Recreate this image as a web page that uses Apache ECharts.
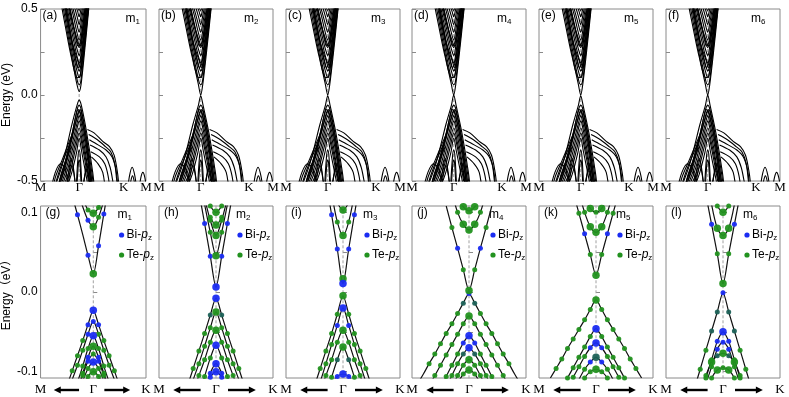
<!DOCTYPE html>
<html>
<head>
<meta charset="utf-8">
<script src="https://cdn.jsdelivr.net/npm/echarts@6.0.0/dist/echarts.min.js"></script>
<style>
html, body { margin: 0; padding: 0; background: #fff; }
#main { width: 789px; height: 397px; }
</style>
</head>
<body>
<div id="main"></div>
<script>
// ---- labels ----
var panelNums = ['1', '2', '3', '4', '5', '6'];
var topLetters = ['(a)', '(b)', '(c)', '(d)', '(e)', '(f)'];
var botLetters = ['(g)', '(h)', '(i)', '(j)', '(k)', '(l)'];

// top row: M-Γ-K-M path
var topTickK = [0, 0.577, 1.244, 1.577];
var topTickNames = ['M', 'Γ', 'K', 'M'];
var topYTicks = [-0.5, -0.25, 0, 0.25, 0.5];
var topYLabels = [-0.5, 0, 0.5];

// bottom row: M <- Γ -> K zoom
var botTickU = [-1, 0, 1];
var botTickNames = ['M', 'Γ', 'K'];
var botYTicks = [-0.1, -0.05, 0, 0.05, 0.1];
var botYLabels = [-0.1, 0, 0.1];

// band edges at Γ for each top panel
var topCbEdge = [0.02, 0.0, 0.0, 0.0, 0.0, 0.0];
var topVbEdge = [-0.03, -0.005, -0.005, 0.0, -0.005, 0.0];

// first conduction / valence band (null = band edge at Γ, per panel)
var topCbFirst = [[0.31, 0.57], [0.40, 0.37], [0.48, 0.19], [0.545, 0.06], null, [0.605, 0.06], [0.655, 0.24], [0.72, 0.5], [0.735, 0.57]];
var topVbFirst = [[0.19, -0.56], [0.33, -0.40], [0.47, -0.17], [0.545, -0.06], null, [0.61, -0.06], [0.69, -0.22], [0.78, -0.45], [0.81, -0.56]];

// conduction bands (k, E)
var topCb = [
  [[0.33, 0.57], [0.42, 0.36], [0.50, 0.18], [0.555, 0.075], [0.577, 0.06], [0.60, 0.075], [0.65, 0.25], [0.715, 0.5], [0.73, 0.57]],
  [[0.34, 0.57], [0.43, 0.37], [0.51, 0.20], [0.56, 0.115], [0.577, 0.10], [0.595, 0.115], [0.645, 0.28], [0.705, 0.5], [0.725, 0.57]],
  [[0.355, 0.57], [0.44, 0.38], [0.52, 0.22], [0.56, 0.155], [0.577, 0.14], [0.595, 0.155], [0.64, 0.30], [0.70, 0.51], [0.715, 0.57]],
  [[0.37, 0.57], [0.45, 0.40], [0.525, 0.26], [0.565, 0.195], [0.577, 0.185], [0.59, 0.195], [0.635, 0.33], [0.69, 0.51], [0.71, 0.57]],
  [[0.385, 0.57], [0.46, 0.42], [0.53, 0.29], [0.565, 0.24], [0.577, 0.23], [0.59, 0.24], [0.63, 0.36], [0.685, 0.52], [0.70, 0.57]],
  [[0.40, 0.57], [0.475, 0.44], [0.535, 0.33], [0.577, 0.275], [0.62, 0.36], [0.675, 0.52], [0.69, 0.57]],
  [[0.42, 0.57], [0.49, 0.46], [0.54, 0.37], [0.577, 0.32], [0.615, 0.40], [0.665, 0.53], [0.68, 0.57]],
  [[0.44, 0.57], [0.50, 0.48], [0.545, 0.41], [0.577, 0.365], [0.61, 0.43], [0.66, 0.55], [0.67, 0.57]],
  [[0.46, 0.57], [0.515, 0.50], [0.55, 0.45], [0.577, 0.41], [0.605, 0.46], [0.655, 0.57]],
  [[0.48, 0.57], [0.525, 0.52], [0.555, 0.485], [0.577, 0.455], [0.60, 0.49], [0.645, 0.57]],
  [[0.50, 0.57], [0.54, 0.53], [0.577, 0.49], [0.60, 0.52], [0.635, 0.57]],
  [[0.29, 0.57], [0.37, 0.40], [0.46, 0.22], [0.55, 0.10], [0.59, 0.11], [0.64, 0.24], [0.70, 0.45], [0.74, 0.57]],
  // split pairs crossing at Γ
  [[0.36, 0.57], [0.46, 0.33], [0.545, 0.17], [0.562, 0.16], [0.60, 0.20], [0.655, 0.37], [0.70, 0.57]],
  [[0.35, 0.57], [0.45, 0.34], [0.555, 0.20], [0.592, 0.16], [0.61, 0.17], [0.66, 0.32], [0.715, 0.57]],
  [[0.41, 0.57], [0.48, 0.42], [0.55, 0.29], [0.565, 0.285], [0.60, 0.32], [0.65, 0.46], [0.685, 0.57]],
  [[0.40, 0.57], [0.47, 0.43], [0.56, 0.31], [0.59, 0.285], [0.605, 0.29], [0.655, 0.42], [0.695, 0.57]]
];

// valence bands (k, E)
var topVb = [
  [[0.22, -0.57], [0.35, -0.42], [0.48, -0.21], [0.55, -0.08], [0.577, -0.06], [0.605, -0.08], [0.68, -0.23], [0.77, -0.46], [0.80, -0.56]],
  [[0.24, -0.57], [0.37, -0.42], [0.49, -0.22], [0.555, -0.11], [0.577, -0.09], [0.60, -0.11], [0.675, -0.26], [0.76, -0.48], [0.79, -0.56]],
  [[0.26, -0.57], [0.385, -0.43], [0.50, -0.24], [0.56, -0.14], [0.577, -0.12], [0.595, -0.14], [0.67, -0.29], [0.75, -0.50], [0.775, -0.56]],
  [[0.28, -0.57], [0.40, -0.44], [0.51, -0.26], [0.56, -0.17], [0.577, -0.15], [0.595, -0.17], [0.665, -0.32], [0.74, -0.52], [0.76, -0.56]],
  [[0.30, -0.57], [0.42, -0.45], [0.52, -0.28], [0.577, -0.19], [0.63, -0.28], [0.73, -0.50], [0.75, -0.56]],
  [[0.33, -0.57], [0.44, -0.45], [0.53, -0.30], [0.577, -0.22], [0.625, -0.30], [0.72, -0.51], [0.74, -0.56]],
  [[0.36, -0.57], [0.46, -0.46], [0.54, -0.33], [0.577, -0.25], [0.615, -0.33], [0.71, -0.53], [0.72, -0.56]],
  // split pairs crossing at Γ
  [[0.25, -0.57], [0.40, -0.36], [0.54, -0.10], [0.562, -0.085], [0.60, -0.12], [0.68, -0.28], [0.77, -0.57]],
  [[0.23, -0.57], [0.38, -0.37], [0.555, -0.12], [0.592, -0.085], [0.61, -0.10], [0.69, -0.27], [0.785, -0.57]],
  // humps around Γ
  [[0.38, -0.56], [0.43, -0.42], [0.46, -0.37], [0.49, -0.42], [0.53, -0.56]],
  [[0.40, -0.56], [0.44, -0.45], [0.47, -0.41], [0.50, -0.46], [0.53, -0.56]],
  [[0.53, -0.56], [0.56, -0.36], [0.577, -0.32], [0.595, -0.36], [0.62, -0.56]],
  [[0.54, -0.56], [0.565, -0.40], [0.577, -0.38], [0.59, -0.40], [0.61, -0.56]],
  [[0.64, -0.56], [0.67, -0.44], [0.70, -0.40], [0.73, -0.45], [0.76, -0.56]],
  [[0.62, -0.56], [0.66, -0.47], [0.69, -0.44], [0.72, -0.48], [0.74, -0.56]],
  // shoulders toward K
  [[0.70, -0.20], [0.80, -0.22], [0.93, -0.27], [1.03, -0.30], [1.10, -0.35], [1.15, -0.45], [1.18, -0.56]],
  [[0.72, -0.23], [0.85, -0.26], [0.97, -0.30], [1.05, -0.33], [1.11, -0.40], [1.14, -0.50], [1.16, -0.56]],
  [[0.73, -0.26], [0.86, -0.29], [0.98, -0.32], [1.07, -0.36], [1.13, -0.44], [1.16, -0.56]],
  [[0.74, -0.29], [0.88, -0.32], [0.98, -0.36], [1.04, -0.42], [1.08, -0.50], [1.10, -0.56]],
  [[0.75, -0.33], [0.88, -0.36], [0.96, -0.40], [1.01, -0.47], [1.04, -0.56]],
  [[0.76, -0.36], [0.86, -0.40], [0.93, -0.45], [0.97, -0.56]],
  // fan toward M
  [[0.18, -0.56], [0.22, -0.48], [0.32, -0.38], [0.42, -0.28], [0.50, -0.20]],
  [[0.20, -0.56], [0.22, -0.52], [0.30, -0.42], [0.40, -0.32], [0.48, -0.24]],
  [[0.26, -0.56], [0.30, -0.47], [0.38, -0.38], [0.46, -0.30]],
  [[0.15, -0.56], [0.22, -0.45], [0.30, -0.40], [0.37, -0.43], [0.42, -0.56]],
  // arches near K and M
  [[1.30, -0.56], [1.33, -0.47], [1.37, -0.42], [1.41, -0.47], [1.44, -0.56]],
  [[1.33, -0.56], [1.35, -0.50], [1.375, -0.47], [1.40, -0.50], [1.42, -0.56]],
  [[1.47, -0.56], [1.50, -0.48], [1.53, -0.45], [1.56, -0.48], [1.59, -0.56]]
];

// bottom row: energies on a k grid; [start index, orbital dots, energies]
var uGrid = [-0.9, -0.8, -0.7, -0.6, -0.5, -0.4, -0.3, -0.2, -0.1, 0, 0.1, 0.2, 0.3, 0.4, 0.5, 0.6, 0.7, 0.8, 0.9];
var botBands = [
  [ // (g) m1
    [5, '.b.bGbb.', [0.121, 0.097, 0.072, 0.046, 0.023, 0.058, 0.098, 0.138]],
    [6, '..bGg.', [0.128, 0.107, 0.09, 0.082, 0.094, 0.115]],
    [7, '.gGg.', [0.118, 0.103, 0.099, 0.106, 0.12]],
    [3, '..gggbBbggg..', [-0.137, -0.118, -0.099, -0.08, -0.061, -0.041, -0.023, -0.041, -0.061, -0.08, -0.099, -0.118, -0.137]],
    [4, '.gggbbgggg.', [-0.128, -0.11, -0.092, -0.073, -0.053, -0.037, -0.053, -0.073, -0.092, -0.11, -0.128]],
    [5, '.gggBggg.', [-0.13, -0.113, -0.093, -0.071, -0.055, -0.071, -0.093, -0.113, -0.13]],
    [5, '.ggbGbgg.', [-0.14, -0.122, -0.102, -0.082, -0.068, -0.082, -0.102, -0.122, -0.14]],
    [6, '.gbgbg.', [-0.125, -0.105, -0.087, -0.078, -0.087, -0.105, -0.125]],
    [6, '.ggBgg.', [-0.13, -0.112, -0.096, -0.088, -0.096, -0.112, -0.13]],
    [7, 'ggGgg', [-0.118, -0.106, -0.1, -0.106, -0.118]]
  ],
  [ // (h) m2
    [6, '.bbBbb.', [0.126, 0.086, 0.045, 0.0064, 0.045, 0.086, 0.126]],
    [7, 'ggGgg', [0.11, 0.075, 0.0455, 0.075, 0.11]],
    [7, '.gGg.', [0.118, 0.09, 0.071, 0.09, 0.118]],
    [8, 'gGg', [0.094, 0.084, 0.094]],
    [8, 'gGg', [0.108, 0.1, 0.108]],
    [3, '..gggtBtggg..', [-0.14, -0.118, -0.096, -0.074, -0.052, -0.029, -0.0077, -0.029, -0.052, -0.074, -0.096, -0.118, -0.14]],
    [4, '.ggggGgggg.', [-0.13, -0.11, -0.09, -0.068, -0.045, -0.025, -0.045, -0.068, -0.09, -0.11, -0.13]],
    [5, '.gggGggg.', [-0.125, -0.105, -0.085, -0.063, -0.048, -0.063, -0.085, -0.105, -0.125]],
    [6, '.ggBgg.', [-0.128, -0.106, -0.083, -0.067, -0.083, -0.106, -0.128]],
    [7, 'gbBbg', [-0.125, -0.102, -0.09, -0.102, -0.125]],
    [8, 'bBb', [-0.107, -0.1, -0.107]]
  ],
  [ // (i) m3
    [6, '.bbBbb.', [0.14, 0.097, 0.054, 0.0106, 0.054, 0.097, 0.14]],
    [9, 'G', [0.0166]],
    [7, 'bgGgg', [0.125, 0.088, 0.071, 0.088, 0.125]],
    [8, 'gGg', [0.112, 0.103, 0.112]],
    [3, '..ggggGgggg..', [-0.14, -0.118, -0.096, -0.074, -0.052, -0.028, -0.0047, -0.028, -0.052, -0.074, -0.096, -0.118, -0.14]],
    [4, '.gggbBbggg.', [-0.135, -0.113, -0.09, -0.066, -0.042, -0.02, -0.042, -0.066, -0.09, -0.113, -0.135]],
    [5, '.gggGggg.', [-0.125, -0.105, -0.085, -0.063, -0.048, -0.063, -0.085, -0.105, -0.125]],
    [6, '.gtGtg.', [-0.13, -0.107, -0.085, -0.069, -0.085, -0.107, -0.13]],
    [7, 'bbBbb', [-0.115, -0.106, -0.103, -0.106, -0.115]]
  ],
  [ // (j) m4
    [5, '.gbgGgbg.', [0.108, 0.081, 0.055, 0.028, 0.002, 0.028, 0.055, 0.081, 0.108]],
    [6, '.gGGGg.', [0.125, 0.1, 0.085, 0.078, 0.085, 0.1, 0.125]],
    [7, 'gGGGg', [0.118, 0.107, 0.102, 0.107, 0.118]],
    [0, '..ggggggtbtgggggg..', [-0.115, -0.103, -0.09, -0.078, -0.065, -0.052, -0.04, -0.027, -0.014, -0.002, -0.014, -0.027, -0.04, -0.052, -0.065, -0.078, -0.09, -0.103, -0.115]],
    [2, '.ggggggGgggggg.', [-0.118, -0.105, -0.092, -0.079, -0.066, -0.053, -0.04, -0.03, -0.04, -0.053, -0.066, -0.079, -0.092, -0.105, -0.118]],
    [4, '.gggbBbggg.', [-0.12, -0.106, -0.092, -0.078, -0.064, -0.055, -0.064, -0.078, -0.092, -0.106, -0.12]],
    [5, '.ggtBtgg.', [-0.12, -0.105, -0.09, -0.078, -0.07, -0.078, -0.09, -0.105, -0.12]],
    [6, '.ggGgg.', [-0.12, -0.105, -0.092, -0.085, -0.092, -0.105, -0.12]],
    [7, 'ggGgg', [-0.115, -0.103, -0.098, -0.103, -0.115]]
  ],
  [ // (k) m5
    [5, '.gbgGgbg.', [0.125, 0.099, 0.073, 0.047, 0.021, 0.047, 0.073, 0.099, 0.125]],
    [6, '.gGGGg.', [0.125, 0.1, 0.082, 0.075, 0.082, 0.1, 0.125]],
    [7, 'gGgGg', [0.118, 0.105, 0.1, 0.105, 0.118]],
    [1, '.gggggggGggggggg.', [-0.108, -0.096, -0.084, -0.071, -0.059, -0.047, -0.035, -0.022, -0.01, -0.022, -0.035, -0.047, -0.059, -0.071, -0.084, -0.096, -0.108]],
    [3, '.gggggBggggg.', [-0.12, -0.108, -0.095, -0.082, -0.069, -0.056, -0.046, -0.056, -0.069, -0.082, -0.095, -0.108, -0.12]],
    [4, '.gggbBbggg.', [-0.12, -0.107, -0.094, -0.081, -0.07, -0.064, -0.07, -0.081, -0.094, -0.107, -0.12]],
    [5, '.ggbTbgg.', [-0.125, -0.11, -0.097, -0.088, -0.082, -0.088, -0.097, -0.11, -0.125]],
    [6, '.ggGgg.', [-0.12, -0.108, -0.1, -0.097, -0.1, -0.108, -0.12]]
  ],
  [ // (l) m6
    [6, '.bgGgb.', [0.122, 0.085, 0.048, 0.0106, 0.048, 0.085, 0.122]],
    [7, 'gGGGg', [0.11, 0.08, 0.071, 0.08, 0.11]],
    [8, 'gGg', [0.108, 0.1, 0.108]],
    [4, '.ggttbttgg.', [-0.121, -0.097, -0.073, -0.049, -0.025, -0.001, -0.025, -0.049, -0.073, -0.097, -0.121]],
    [5, '.ggbBbgg.', [-0.13, -0.108, -0.085, -0.062, -0.05, -0.062, -0.085, -0.108, -0.13]],
    [6, '.gbbbg.', [-0.115, -0.094, -0.072, -0.063, -0.072, -0.094, -0.115]],
    [5, '.gGtGtGg.', [-0.125, -0.105, -0.088, -0.08, -0.077, -0.08, -0.088, -0.105, -0.125]],
    [6, '.gGgGg.', [-0.125, -0.108, -0.098, -0.095, -0.098, -0.108, -0.125]]
  ]
];

// ---- layout & style ----
var gridLeft = [32, 159, 286, 412, 539, 666];
var gridW = 114, rowH = 172, topRowTop = 9, botRowTop = 206;
var borderColor = '#8a8a8a';
var dotStyle = {
  g: { color: '#22921f', size: 5 },
  G: { color: '#22921f', size: 7.5 },
  b: { color: '#1a2cf2', size: 5 },
  B: { color: '#1a2cf2', size: 7.5 },
  t: { color: '#1e6258', size: 5 },
  T: { color: '#1e6258', size: 7.5 }
};
var sansFont = 'Liberation Sans, Arial, Noto Sans CJK SC, sans-serif';
var serifFont = 'Liberation Serif, Times New Roman, serif';

var chart = echarts.init(document.getElementById('main'));
var grids = [], xAxes = [], yAxes = [], series = [];

function lineSeries(idx, data, extra) {
  var s = {
    type: 'line', xAxisIndex: idx, yAxisIndex: idx, data: data,
    showSymbol: false, silent: true, smooth: 0.3,
    lineStyle: { color: '#000', width: 1.1 }, z: 3
  };
  for (var k in extra) s[k] = extra[k];
  return s;
}

for (var p = 0; p < 6; p++) {
  // ---- top panel (index p) ----
  var ti = p;
  grids[ti] = { left: gridLeft[p], top: topRowTop, width: gridW, height: rowH, show: true, borderColor: borderColor, borderWidth: 1 };
  xAxes[ti] = {
    gridIndex: ti, type: 'value', min: 0, max: 1.577,
    axisLine: { show: false }, axisTick: { show: false }, splitLine: { show: false },
    axisLabel: {
      customValues: topTickK, margin: 0, fontFamily: serifFont, fontSize: 13, color: '#000',
      formatter: function (v) { return topTickNames[topTickK.indexOf(v)]; }
    }
  };
  yAxes[ti] = {
    gridIndex: ti, type: 'value', min: -0.5, max: 0.5,
    axisLine: { show: false }, splitLine: { show: false },
    axisTick: { inside: true, length: 4, customValues: topYTicks, lineStyle: { color: borderColor } },
    axisLabel: {
      show: p === 0, customValues: topYLabels, margin: 3, fontFamily: sansFont, fontSize: 12, color: '#000',
      formatter: function (v) { return v.toFixed(1); }
    },
    name: p === 0 ? 'Energy (eV)' : '', nameLocation: 'middle', nameGap: 22, nameRotate: 90,
    nameTextStyle: { fontFamily: sansFont, fontSize: 12, color: '#000' }
  };
  series.push(lineSeries(ti, [[topTickK[1], -1], [topTickK[1], 1]], {
    smooth: false, z: 1, lineStyle: { color: '#a0a0a0', width: 1, type: [3, 2] }
  }));
  var cb1 = topCbFirst.map(function (pt) { return pt || [topTickK[1], topCbEdge[p]]; });
  var vb1 = topVbFirst.map(function (pt) { return pt || [topTickK[1], topVbEdge[p]]; });
  [cb1, vb1].concat(topCb, topVb).forEach(function (band) {
    series.push(lineSeries(ti, band, {}));
  });

  // ---- bottom panel (index 6 + p) ----
  var bi = 6 + p;
  grids[bi] = { left: gridLeft[p], top: botRowTop, width: gridW, height: rowH, show: true, borderColor: borderColor, borderWidth: 1 };
  xAxes[bi] = {
    gridIndex: bi, type: 'value', min: -1, max: 1,
    axisLine: { show: false }, axisTick: { show: false }, splitLine: { show: false },
    axisLabel: {
      customValues: botTickU, margin: 5, fontFamily: serifFont, fontSize: 13, color: '#000',
      formatter: function (v) { return botTickNames[botTickU.indexOf(v)]; }
    }
  };
  yAxes[bi] = {
    gridIndex: bi, type: 'value', min: -0.108, max: 0.108,
    axisLine: { show: false }, splitLine: { show: false },
    axisTick: { inside: true, length: 4, customValues: botYTicks, lineStyle: { color: borderColor } },
    axisLabel: {
      show: p === 0, customValues: botYLabels, margin: 3, fontFamily: sansFont, fontSize: 12, color: '#000',
      formatter: function (v) { return v.toFixed(1); }
    },
    name: p === 0 ? 'Energy（eV）' : '', nameLocation: 'middle', nameGap: 22, nameRotate: 90,
    nameTextStyle: { fontFamily: sansFont, fontSize: 12, color: '#000' }
  };
  series.push(lineSeries(bi, [[0, -1], [0, 1]], {
    smooth: false, z: 1, lineStyle: { color: '#a0a0a0', width: 1, type: [3, 2] }
  }));
  var dots = {};
  botBands[p].forEach(function (band) {
    var pts = band[2].map(function (e, i) { return [uGrid[band[0] + i], e]; });
    if (pts.length > 1) series.push(lineSeries(bi, pts, { lineStyle: { color: '#111', width: 1.2 } }));
    pts.forEach(function (pt, i) {
      var c = band[1].charAt(i);
      if (dotStyle[c]) (dots[c] = dots[c] || []).push(pt);
    });
  });
  ['t', 'g', 'b', 'T', 'G', 'B'].forEach(function (c) {
    if (!dots[c]) return;
    series.push({
      type: 'scatter', xAxisIndex: bi, yAxisIndex: bi, data: dots[c], silent: true,
      symbolSize: dotStyle[c].size, itemStyle: { color: dotStyle[c].color, opacity: 0.95 }, z: 5
    });
  });
}

chart.setOption({
  animation: false,
  grid: grids, xAxis: xAxes, yAxis: yAxes, series: series
});

// ---- panel annotations, legends and arrows ----
var graphics = [];
var subRich = {
  n: { fontFamily: sansFont, fontSize: 12, lineHeight: 14, fill: '#000' },
  i: { fontFamily: sansFont, fontSize: 12, lineHeight: 14, fontStyle: 'italic', fill: '#000' },
  s: { fontFamily: sansFont, fontSize: 8, lineHeight: 14, padding: [6, 0, 0, 0], fill: '#000' }
};
for (var q = 0; q < 6; q++) {
  var tl = chart.convertToPixel({ gridIndex: q }, [0, 0.5]);
  var bl = chart.convertToPixel({ gridIndex: 6 + q }, [-1, 0.108]);
  graphics.push({ type: 'text', x: tl[0] + 2, y: tl[1] + 7, silent: true,
    style: { text: topLetters[q], font: '12px ' + sansFont, fill: '#000', verticalAlign: 'middle' } });
  graphics.push({ type: 'text', x: tl[0] + 85, y: tl[1] + 10, silent: true,
    style: { text: '{n|m}{s|' + panelNums[q] + '}', rich: subRich, verticalAlign: 'middle' } });
  graphics.push({ type: 'text', x: bl[0] + 5, y: bl[1] + 7, silent: true,
    style: { text: botLetters[q], font: '12px ' + sansFont, fill: '#000', verticalAlign: 'middle' } });
  graphics.push({ type: 'text', x: bl[0] + 77, y: bl[1] + 9, silent: true,
    style: { text: '{n|m}{s|' + panelNums[q] + '}', rich: subRich, verticalAlign: 'middle' } });
  graphics.push({ type: 'circle', silent: true, shape: { cx: bl[0] + 81, cy: bl[1] + 29, r: 2.6 }, style: { fill: dotStyle.b.color } });
  graphics.push({ type: 'text', x: bl[0] + 86, y: bl[1] + 29, silent: true,
    style: { text: '{n|Bi-}{i|p}{s|z}', rich: subRich, verticalAlign: 'middle' } });
  graphics.push({ type: 'circle', silent: true, shape: { cx: bl[0] + 81, cy: bl[1] + 49, r: 2.6 }, style: { fill: dotStyle.g.color } });
  graphics.push({ type: 'text', x: bl[0] + 86, y: bl[1] + 49, silent: true,
    style: { text: '{n|Te-}{i|p}{s|z}', rich: subRich, verticalAlign: 'middle' } });

  // arrows M <- Γ -> K
  var a1 = chart.convertToPixel({ gridIndex: 6 + q }, [-0.75, -0.108]);
  var a2 = chart.convertToPixel({ gridIndex: 6 + q }, [-0.27, -0.108]);
  var a3 = chart.convertToPixel({ gridIndex: 6 + q }, [0.21, -0.108]);
  var a4 = chart.convertToPixel({ gridIndex: 6 + q }, [0.70, -0.108]);
  var ay = a1[1] + 12;
  graphics.push({ type: 'line', silent: true, shape: { x1: a1[0] + 5, y1: ay, x2: a2[0], y2: ay }, style: { stroke: '#000', lineWidth: 2.4 } });
  graphics.push({ type: 'polygon', silent: true, shape: { points: [[a1[0], ay], [a1[0] + 7, ay - 3.5], [a1[0] + 7, ay + 3.5]] }, style: { fill: '#000' } });
  graphics.push({ type: 'line', silent: true, shape: { x1: a3[0], y1: ay, x2: a4[0] - 5, y2: ay }, style: { stroke: '#000', lineWidth: 2.4 } });
  graphics.push({ type: 'polygon', silent: true, shape: { points: [[a4[0], ay], [a4[0] - 7, ay - 3.5], [a4[0] - 7, ay + 3.5]] }, style: { fill: '#000' } });
}
chart.setOption({ graphic: graphics });
</script>
</body>
</html>
